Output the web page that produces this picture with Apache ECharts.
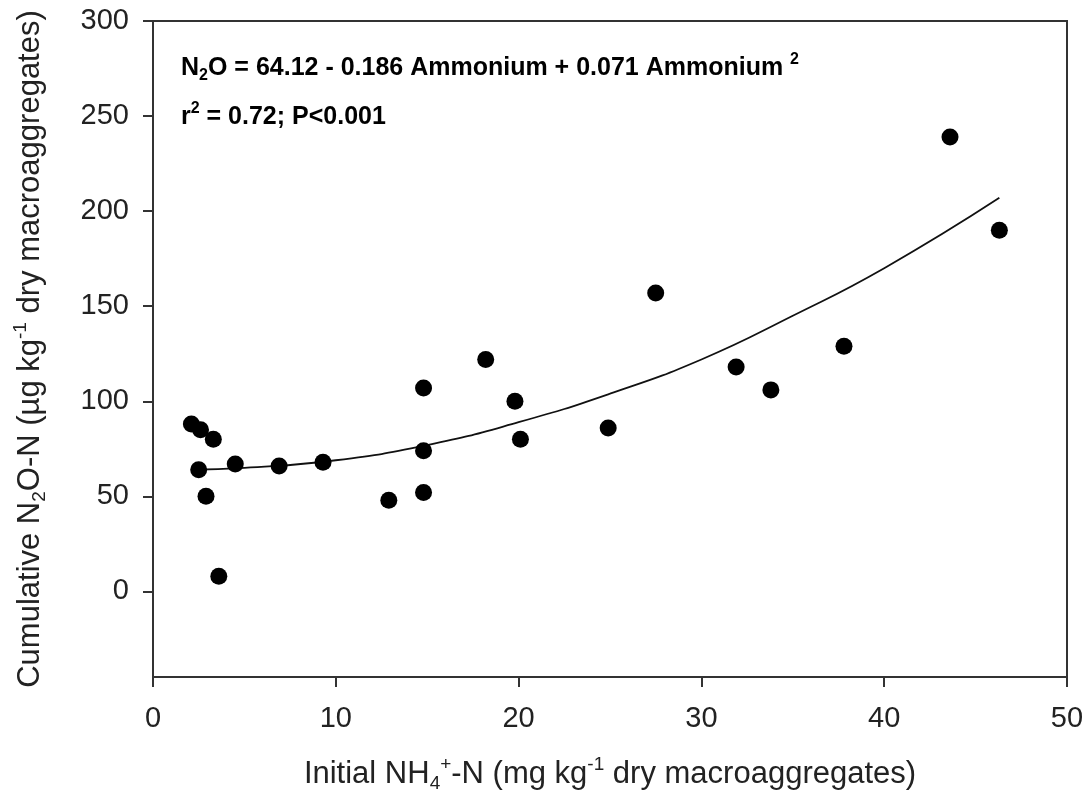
<!doctype html>
<html>
<head>
<meta charset="utf-8">
<title>N2O vs initial NH4+</title>
<script src="https://cdn.jsdelivr.net/npm/echarts@6/dist/echarts.min.js"></script>
<style>
  html, body { margin: 0; padding: 0; background: #fff; }
  #chart { width: 1091px; height: 805px; }
</style>
</head>
<body>
<div id="chart"></div>
<script>
// measured points: initial NH4+-N (x) and cumulative N2O-N (y)
var nh4 = [2.1, 2.6, 3.3, 2.5, 2.9, 3.6, 4.5, 6.9, 9.3, 12.9, 14.8, 14.8, 14.8,
           18.2, 19.8, 20.1, 24.9, 27.5, 31.9, 33.8, 37.8, 43.6, 46.3];
var n2o = [88, 85, 80, 64, 50, 8, 67, 66, 68, 48, 52, 74, 107,
           122, 100, 80, 86, 157, 118, 106, 129, 239, 190];

// fitted curve
var fitX = [2.1, 5, 10, 15, 20, 25, 30, 35, 40, 46.3];
var fitY = [64, 65, 69, 77, 89, 104, 122, 145, 170, 207];

var yTicks = [0, 50, 100, 150, 200, 250, 300];

var pts = nh4.map(function (v, i) { return [v, n2o[i]]; });
var fit = fitX.map(function (v, i) { return [v, fitY[i]]; });

var font = 'Liberation Sans, Arial, sans-serif';
var ink = '#333';

var richLabel = {
  n: { fontSize: 31, fontFamily: font, color: '#222', lineHeight: 38 },
  sub: { fontSize: 19, fontFamily: font, color: '#222', verticalAlign: 'bottom', lineHeight: 16 },
  sup: { fontSize: 19, fontFamily: font, color: '#222', verticalAlign: 'top', lineHeight: 16 }
};
var richEq = {
  b: { fontSize: 25, fontWeight: 'bold', fontFamily: font, color: '#111', lineHeight: 32 },
  sub: { fontSize: 16, fontWeight: 'bold', fontFamily: font, color: '#111', verticalAlign: 'bottom', lineHeight: 13 },
  sup: { fontSize: 16, fontWeight: 'bold', fontFamily: font, color: '#111', verticalAlign: 'top', lineHeight: 13 }
};

var chart = echarts.init(document.getElementById('chart'));
chart.setOption({
  animation: false,
  backgroundColor: '#fff',
  grid: {
    left: 153, right: 24, top: 21, bottom: 128,
    outerBoundsMode: 'none',
    show: true, borderColor: ink, borderWidth: 2
  },
  xAxis: {
    type: 'value', min: 0, max: 50, interval: 10,
    name: '{n|Initial NH}{sub|4}{sup|+}{n|-N (mg kg}{sup|-1}{n| dry macroaggregates)}',
    nameLocation: 'middle', nameGap: 78,
    nameTextStyle: { rich: richLabel },
    axisLine: { show: true, onZero: false, lineStyle: { color: ink, width: 2 } },
    axisTick: { show: true, length: 10, lineStyle: { color: ink, width: 2 } },
    axisLabel: { margin: 27, fontSize: 29, fontFamily: font, color: '#222' },
    splitLine: { show: false }
  },
  yAxis: {
    type: 'value', min: -45, max: 300,
    name: '{n|Cumulative N}{sub|2}{n|O-N (µg kg}{sup|-1}{n| dry macroaggregates)}',
    nameLocation: 'middle', nameGap: 104, nameRotate: 90,
    nameTextStyle: { rich: richLabel },
    axisLine: { show: true, onZero: false, lineStyle: { color: ink, width: 2 } },
    axisTick: { show: true, length: 10, customValues: yTicks, lineStyle: { color: ink, width: 2 } },
    axisLabel: { margin: 24, fontSize: 29, fontFamily: font, color: '#222', customValues: yTicks },
    splitLine: { show: false }
  },
  graphic: [
    {
      type: 'text', left: 181, top: 52,
      style: {
        text: '{b|N}{sub|2}{b|O = 64.12 - 0.186 Ammonium + 0.071 Ammonium }{sup|2}',
        rich: richEq
      }
    },
    {
      type: 'text', left: 181, top: 101,
      style: {
        text: '{b|r}{sup|2}{b| = 0.72; P<0.001}',
        rich: richEq
      }
    }
  ],
  series: [
    {
      type: 'line', data: fit, smooth: true, showSymbol: false,
      lineStyle: { color: '#111', width: 1.8 }, z: 2
    },
    {
      type: 'scatter', data: pts, symbol: 'circle', symbolSize: 17,
      itemStyle: { color: '#000', opacity: 1 }, z: 3
    }
  ]
});
</script>
</body>
</html>
